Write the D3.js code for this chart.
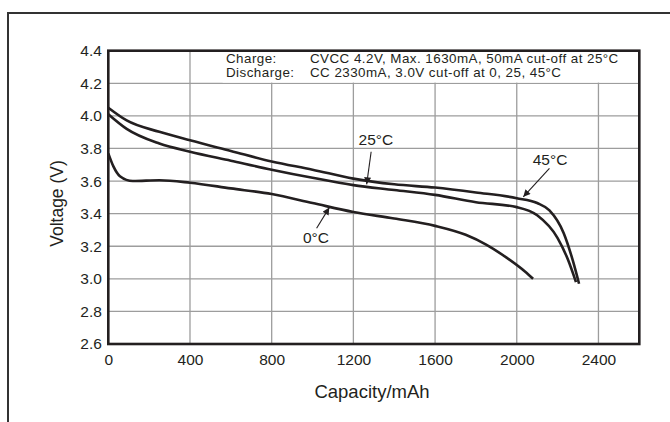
<!DOCTYPE html>
<html>
<head>
<meta charset="utf-8">
<script src="https://cdn.jsdelivr.net/npm/d3@7"></script>
<style>
  body { margin: 0; background: #fff; }
  svg { display: block; font-family: 'Liberation Sans', Arial, sans-serif; }
</style>
</head>
<body>
<svg id="chart" width="670" height="422"></svg>
<script>
// capacity (mAh) / voltage (V)
const cap45 = [0, 90, 250, 400, 600, 800, 1000, 1200, 1400, 1600, 1800, 2000, 2100, 2160, 2230, 2275, 2305];
const volt45 = [4.05, 3.972, 3.902, 3.85, 3.785, 3.72, 3.67, 3.615, 3.58, 3.56, 3.53, 3.495, 3.465, 3.42, 3.28, 3.11, 2.97];

const cap25 = [0, 90, 250, 400, 600, 800, 1000, 1200, 1400, 1600, 1800, 2000, 2100, 2200, 2250, 2290];
const volt25 = [4.01, 3.92, 3.83, 3.78, 3.725, 3.67, 3.62, 3.575, 3.545, 3.515, 3.47, 3.44, 3.39, 3.25, 3.12, 2.98];

const cap0 = [0, 25, 57, 120, 250, 400, 600, 800, 1000, 1200, 1400, 1600, 1750, 1850, 1950, 2040, 2080];
const volt0 = [3.77, 3.69, 3.63, 3.6, 3.605, 3.59, 3.555, 3.52, 3.465, 3.41, 3.37, 3.325, 3.27, 3.21, 3.13, 3.045, 3.0];

const xTicks = [0, 400, 800, 1200, 1600, 2000, 2400];
const yTicks = [2.6, 2.8, 3.0, 3.2, 3.4, 3.6, 3.8, 4.0, 4.2, 4.4];

// curve labels: text position and arrow tip, in data units
const labelText = ['25°C', '45°C', '0°C'];
const labelAt = [[1310, 3.82], [2163, 3.70], [1017, 3.22]];
const arrowFrom = [[1287, 3.78], [2160, 3.678], [1020, 3.31]];
const arrowTo = [[1265, 3.58], [2032, 3.503], [1082, 3.437]];

const noteLabels = ['Charge:', 'Discharge:'];
const noteTexts = ['CVCC 4.2V, Max. 1630mA, 50mA cut-off at 25°C', 'CC 2330mA, 3.0V cut-off at 0, 25, 45°C'];

const ink = '#231f20';
const svg = d3.select('#chart');

const x = d3.scaleLinear().domain([0, 2600]).range([108.3, 639.3]);
const y = d3.scaleLinear().domain([2.6, 4.4]).range([344, 50.7]);

// outer frame, runs off the right and bottom
svg.append('path')
  .attr('d', 'M8,424V13H672')
  .attr('fill', 'none')
  .attr('stroke', '#333')
  .attr('stroke-width', 2);

// grid
const grid = svg.append('g')
  .attr('stroke', '#9d9d9d')
  .attr('stroke-width', 1.3);
grid.selectAll('.gx')
  .data(xTicks.slice(1))
  .join('line')
  .attr('x1', (d) => x(d))
  .attr('x2', (d) => x(d))
  .attr('y1', y(2.6))
  .attr('y2', y(4.4));
grid.selectAll('.gy')
  .data(yTicks.slice(1, -1))
  .join('line')
  .attr('x1', x(0))
  .attr('x2', x(2600))
  .attr('y1', (d) => y(d))
  .attr('y2', (d) => y(d));

// white box for the test conditions, grid 4.2 line stays on top
svg.append('rect')
  .attr('x', x(560))
  .attr('y', y(4.4))
  .attr('width', x(2600) - x(560))
  .attr('height', y(4.2) - y(4.4) - 0.7)
  .attr('fill', '#fff');

const notes = svg.append('g')
  .attr('fill', ink)
  .attr('font-size', 13.4)
  .attr('letter-spacing', 0.45);
noteLabels.forEach((txt, i) => {
  notes.append('text')
    .attr('x', 226)
    .attr('y', 63 + i * 14.2)
    .text(txt);
  notes.append('text')
    .attr('x', 310)
    .attr('y', 63 + i * 14.2)
    .text(noteTexts[i]);
});

// curves
const line = d3.line()
  .x((d) => x(d[0]))
  .y((d) => y(d[1]))
  .curve(d3.curveMonotoneX);

const series = [
  d3.zip(cap45, volt45),
  d3.zip(cap25, volt25),
  d3.zip(cap0, volt0),
];

svg.append('g')
  .selectAll('path')
  .data(series)
  .join('path')
  .attr('d', line)
  .attr('fill', 'none')
  .attr('stroke', ink)
  .attr('stroke-width', 2.6);

// plot frame
svg.append('rect')
  .attr('x', x(0))
  .attr('y', y(4.4))
  .attr('width', x(2600) - x(0))
  .attr('height', y(2.6) - y(4.4))
  .attr('fill', 'none')
  .attr('stroke', ink)
  .attr('stroke-width', 2.6);

// axes (labels only)
const xAxis = svg.append('g')
  .attr('transform', `translate(0,${y(2.6)})`)
  .call(d3.axisBottom(x).tickValues(xTicks).tickFormat(d3.format('d')).tickSize(0).tickPadding(9.8));
const yAxis = svg.append('g')
  .attr('transform', `translate(${x(0)},0)`)
  .call(d3.axisLeft(y).tickValues(yTicks).tickFormat(d3.format('.1f')).tickSize(0).tickPadding(6.4));
[xAxis, yAxis].forEach((g) => {
  g.select('.domain').remove();
  g.selectAll('text')
    .attr('fill', ink)
    .attr('font-size', 15.5)
    .attr('font-family', "'Liberation Sans', Arial, sans-serif");
});

svg.append('text')
  .attr('x', 372)
  .attr('y', 398)
  .attr('text-anchor', 'middle')
  .attr('font-size', 18.5)
  .attr('fill', ink)
  .text('Capacity/mAh');

svg.append('text')
  .attr('transform', 'translate(63,203.5) rotate(-90)')
  .attr('text-anchor', 'middle')
  .attr('font-size', 17.5)
  .attr('fill', ink)
  .text('Voltage (V)');

// arrow annotations
svg.append('defs')
  .append('marker')
  .attr('id', 'head')
  .attr('markerUnits', 'userSpaceOnUse')
  .attr('viewBox', '0 0 10 10')
  .attr('refX', 10)
  .attr('refY', 5)
  .attr('markerWidth', 8)
  .attr('markerHeight', 7)
  .attr('orient', 'auto')
  .append('path')
  .attr('d', 'M0,0L10,5L0,10z')
  .attr('fill', ink);

const notesG = svg.append('g');
labelText.forEach((txt, i) => {
  notesG.append('text')
    .attr('x', x(labelAt[i][0]))
    .attr('y', y(labelAt[i][1]))
    .attr('text-anchor', 'middle')
    .attr('font-size', 15.5)
    .attr('fill', ink)
    .text(txt);
  notesG.append('line')
    .attr('x1', x(arrowFrom[i][0]))
    .attr('y1', y(arrowFrom[i][1]))
    .attr('x2', x(arrowTo[i][0]))
    .attr('y2', y(arrowTo[i][1]))
    .attr('stroke', ink)
    .attr('stroke-width', 1.1)
    .attr('marker-end', 'url(#head)');
});
</script>
</body>
</html>
